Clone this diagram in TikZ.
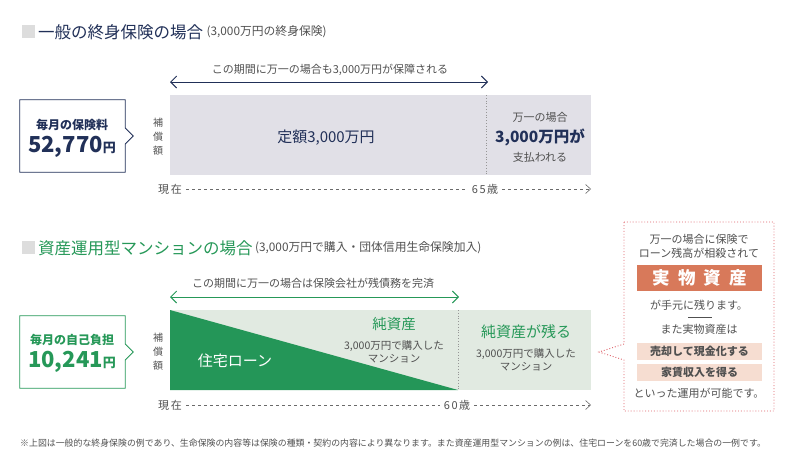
\documentclass[tikz,border=0pt]{standalone}
\usepackage{fontspec}
\setmainfont{Noto Sans CJK JP}
\usetikzlibrary{arrows.meta,positioning,calc}
\definecolor{hknavy}{RGB}{33,48,88}
\definecolor{hkgreen}{RGB}{38,152,88}
\definecolor{hkdark}{RGB}{36,150,88}
\definecolor{hkgray}{RGB}{225,224,231}
\definecolor{hkpale}{RGB}{225,234,225}
\definecolor{hktext}{RGB}{80,80,80}
\definecolor{hkorange}{RGB}{216,121,90}
\definecolor{hkpink}{RGB}{246,221,209}
\definecolor{hkred}{RGB}{222,96,104}
\definecolor{hksq}{RGB}{221,221,221}

\begin{document}
\begin{tikzpicture}[x=1pt, y=-1pt,
  every node/.style={inner sep=0pt, text=hktext, font=\fontsize{11}{13}\selectfont},
  ttl/.style={anchor=west, font=\fontsize{16.5}{20}\selectfont},
  sub/.style={anchor=west, font=\fontsize{11.8}{13}\selectfont},
  sq/.style={fill=hksq, minimum size=13pt},
  lbl/.style={align=center, font=\fontsize{11}{14}\selectfont},
  big/.style={font=\bfseries\fontsize{15.5}{18}\selectfont},
  span/.style={line width=0.9pt, {Straight Barb[length=6pt,width=12pt]}-{Straight Barb[length=6pt,width=12pt]}},
  tl/.style={draw=hktext!85, line width=0.6pt, dash pattern=on 3pt off 3pt},
  tlend/.style={tl, -{Straight Barb[length=5pt,width=9pt]}},
  pinkbx/.style={fill=hkpink, minimum width=125pt, minimum height=17pt, font=\bfseries\fontsize{11}{13}\selectfont}]
\useasboundingbox (0,0) rectangle (800,461);

% Section 1
\node[sq] (sq1) at (28,31.5) {};
\node[ttl, text=hknavy] (ttl1) at (38,32) {一般の終身保険の場合};
\node[sub, right=3pt of ttl1] (sub1) {(3,000万円の終身保険)};
\node (span1txt) at (330,70) {この期間に万一の場合も3,000万円が保障される};
\coordinate (s1a) at (170,82);
\coordinate (s1b) at (488,82);
\draw[span, hknavy] (s1a) -- (s1b);

\node[minimum width=105pt, minimum height=72pt] (feebox) at (72.5,136) {};
\draw[hknavy, fill=white, line width=0.8pt] (feebox.north west) -- (feebox.north east) -- ($(feebox.east)+(0,-8)$) -- ++(8,8) -- ++(-8,8) -- (feebox.south east) -- (feebox.south west) -- cycle;
\node[text=hknavy, font=\bfseries\fontsize{12}{14}\selectfont] (fee1) at (72,125) {毎月の保険料};
\node[text=hknavy, font=\bfseries\fontsize{22}{24}\selectfont] (fee2) at (72,147) {52,770{\fontsize{13}{14}\selectfont 円}};
\node[lbl, font=\fontsize{10}{14}\selectfont] (hosho1) at (158,137) {補\\償\\額};

\fill[hkgray] (170,95) rectangle (591,175);
\draw[hktext!60, dotted, line width=0.8pt] (486,95) -- (486,175);
\node[text=hknavy, font=\fontsize{15}{18}\selectfont] (fixed) at (326,138) {定額3,000万円};
\node (pay1) at (540,117) {万一の場合};
\node[big, text=hknavy] (pay2) at (540,137) {3,000万円が};
\node (pay3) at (540,157) {支払われる};

\node[inner sep=4pt] (now1) at (170,189) {現\hspace{2pt}在};
\node[inner sep=4pt] (age65) at (485,189) {6\hspace{1.5pt}5\hspace{1.5pt}歳};
\coordinate (end1) at (591,189);
\draw[tl] (now1) -- (age65);
\draw[tlend] (age65) -- (end1);

% Section 2
\node[sq] (sq2) at (28,247.5) {};
\node[ttl, text=hkgreen] (ttl2) at (38,248) {資産運用型マンションの場合};
\node[sub, right=2pt of ttl2] (sub2) {(3,000万円で購入・団体信用生命保険加入)};
\node (span2txt) at (313,283) {この期間に万一の場合は保険会社が残債務を完済};
\coordinate (s2a) at (170,297);
\coordinate (s2b) at (459,297);
\draw[span, hkgreen] (s2a) -- (s2b);

\node[minimum width=105pt, minimum height=72pt] (costbox) at (72.5,352) {};
\draw[hkgreen, fill=white, line width=0.8pt] (costbox.north west) -- (costbox.north east) -- ($(costbox.east)+(0,-8)$) -- ++(8,8) -- ++(-8,8) -- (costbox.south east) -- (costbox.south west) -- cycle;
\node[text=hkgreen, font=\bfseries\fontsize{12}{14}\selectfont] (cost1) at (72,340) {毎月の自己負担};
\node[text=hkgreen, font=\bfseries\fontsize{22}{24}\selectfont] (cost2) at (72,362) {10,241{\fontsize{13}{14}\selectfont 円}};
\node[lbl, font=\fontsize{10}{14}\selectfont] (hosho2) at (158,352) {補\\償\\額};

\fill[hkpale] (170,310) rectangle (591,390);
\fill[hkdark] (170,310) -- (458,390) -- (170,390) -- cycle;
\draw[hktext!60, dotted, line width=0.8pt] (458,310) -- (458,390);
\node[text=white, font=\fontsize{15}{18}\selectfont] (loan) at (235,361) {住宅ローン};
\node[text=hkgreen, font=\fontsize{14.5}{17}\selectfont] (net1) at (394,324) {純資産};
\node[lbl, font=\fontsize{10.5}{13}\selectfont] (net1b) at (394,352) {3,000万円で購入した\\マンション};
\node[text=hkgreen, font=\fontsize{15}{18}\selectfont] (net2) at (526,332) {純資産が残る};
\node[lbl, font=\fontsize{10.5}{13}\selectfont] (net2b) at (526,360) {3,000万円で購入した\\マンション};

\node[inner sep=4pt] (now2) at (170,405) {現\hspace{2pt}在};
\node[inner sep=4pt] (age60) at (457,405) {6\hspace{1.5pt}0\hspace{1.5pt}歳};
\coordinate (end2) at (591,405);
\draw[tl] (now2) -- (age60);
\draw[tlend] (age60) -- (end2);

% Callout
\draw[hkred, dotted, line width=0.9pt, fill=white] (624,222) -- (774,222) -- (774,411) -- (624,411) -- (624,360) -- (599,352) -- (624,344) -- cycle;
\node[lbl] (c1) at (699,246) {万一の場合に保険で\\ローン残高が相殺されて};
\node[fill=hkorange, minimum width=125pt, minimum height=26pt, text=white, font=\bfseries\fontsize{17.5}{20}\selectfont] (asset) at (699.5,278) {実\hspace{8pt}物\hspace{8pt}資\hspace{8pt}産};
\node (c2) at (699,305) {が手元に残ります。};
\draw[hktext, line width=0.6pt] (688,317) -- (712,317);
\node (c3) at (699,329) {また実物資産は};
\node[pinkbx] (sell) at (699.5,351.5) {売却して現金化する};
\node[pinkbx] (rent) at (699.5,372) {家賃収入を得る};
\node (c4) at (699,393) {といった運用が可能です。};

% Note
\node[anchor=west, font=\fontsize{8.9}{10}\selectfont] (note) at (20,443) {※上図は一般的な終身保険の例であり、生命保険の内容等は保険の種類・契約の内容により異なります。また資産運用型マンションの例は、住宅ローンを60歳で完済した場合の一例です。};
\end{tikzpicture}
\end{document}
